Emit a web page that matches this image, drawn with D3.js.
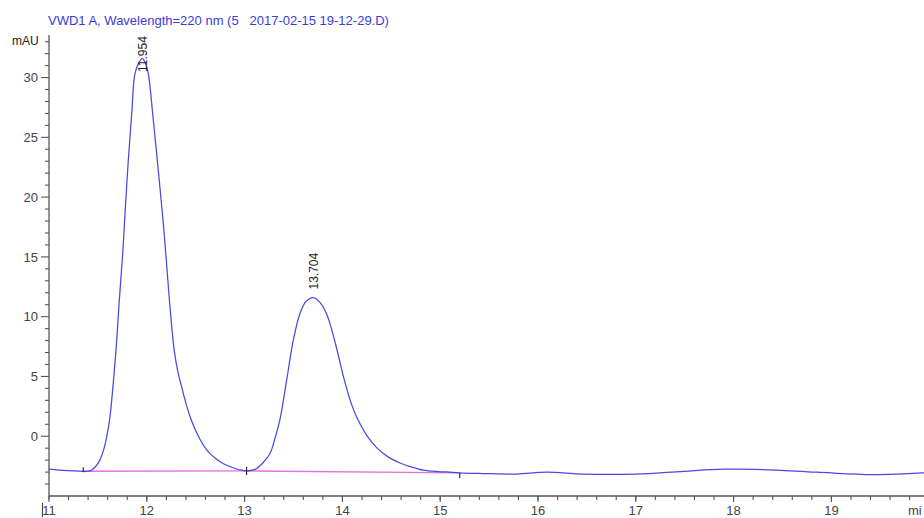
<!DOCTYPE html>
<html>
<head>
<meta charset="utf-8">
<script src="https://cdn.jsdelivr.net/npm/d3@7"></script>
<style>
  html, body { margin: 0; padding: 0; background: #fff; overflow: hidden; }
  svg { display: block; font-family: "Liberation Sans", Arial, sans-serif; }
</style>
</head>
<body>
<svg id="chart" width="924" height="518"></svg>
<script>
// Detector trace: retention time (min) and absorbance (mAU)
const timeMin = [
  11.00, 11.10, 11.20, 11.30, 11.35, 11.42, 11.47, 11.52, 11.56, 11.59,
  11.62, 11.641, 11.685, 11.719, 11.753, 11.777, 11.811, 11.846, 11.879, 11.92,
  11.954, 11.99, 12.015, 12.06, 12.107, 12.16, 12.193, 12.23, 12.28, 12.32,
  12.357, 12.40, 12.46, 12.53, 12.61, 12.70, 12.78, 12.85, 12.92, 12.97,
  13.02, 13.08, 13.124, 13.19, 13.26, 13.31, 13.36, 13.43, 13.498, 13.566,
  13.63, 13.704, 13.77, 13.84, 13.924, 14.01, 14.08, 14.146, 14.25, 14.35,
  14.47, 14.59, 14.71, 14.83, 14.95, 15.07, 15.20, 15.44, 15.78, 16.09,
  16.46, 17.00, 17.49, 17.90, 18.30, 18.85, 19.43, 19.94, 20.10
];
const signalMAU = [
  -2.76, -2.83, -2.88, -2.92, -2.93, -2.90, -2.60, -2.00, -1.10, -0.06,
  1.40, 3.00, 7.20, 11.38, 15.20, 18.60, 23.10, 27.00, 30.35, 31.25,
  31.60, 31.10, 30.35, 27.00, 23.10, 18.60, 15.40, 11.50, 7.20, 5.30,
  4.10, 2.75, 1.25, -0.05, -1.12, -1.85, -2.28, -2.53, -2.74, -2.84,
  -2.90, -2.83, -2.70, -2.20, -1.45, -0.20, 1.34, 4.69, 8.03, 10.27,
  11.30, 11.60, 11.20, 10.20, 7.90, 5.00, 3.00, 1.60, 0.05, -0.95,
  -1.75, -2.24, -2.58, -2.84, -2.95, -2.99, -3.07, -3.12, -3.16, -3.01,
  -3.17, -3.17, -2.93, -2.76, -2.79, -3.01, -3.21, -3.07, -3.05
];

// Integration baseline and its event marks
const baselineTime = [11.35, 13.02, 15.20];
const baselineMAU = [-2.93, -2.90, -3.07];

// Peak annotations
const peakTimes = [11.954, 13.704];
const peakHeights = [31.60, 11.60];
const peakLabels = ["11.954", "13.704"];

// Axis ticks
const xTicks = [11, 12, 13, 14, 15, 16, 17, 18, 19];
const yTicks = [0, 5, 10, 15, 20, 25, 30];

const titleText = "VWD1 A, Wavelength=220 nm (5   2017-02-15 19-12-29.D)";
const yUnit = "mAU";
const xUnit = "mi";

const svg = d3.select("#chart");

const x = d3.scaleLinear().domain([11, 20]).range([49, 929.2]);
const y = d3.scaleLinear().domain([-5, 33.5]).range([496, 35.7]);

const axisColor = "#555";
const labelColor = "#444";

// Title
svg.append("text")
  .attr("x", 48).attr("y", 24.5)
  .attr("font-size", 13)
  .attr("fill", "#3b3bd6")
  .style("white-space", "pre")
  .text(titleText);

// Y axis
const yAxisG = svg.append("g").attr("transform", "translate(49,0)");
yAxisG.append("line")
  .attr("x1", 0).attr("x2", 0).attr("y1", 35).attr("y2", 496)
  .attr("stroke", axisColor).attr("stroke-width", 1.3);
const yMinor = d3.range(-4, 34, 1).filter(v => !yTicks.includes(v));
yAxisG.selectAll("line.minor").data(yMinor).join("line")
  .attr("class", "minor")
  .attr("x1", -4).attr("x2", 0)
  .attr("y1", d => y(d)).attr("y2", d => y(d))
  .attr("stroke", axisColor).attr("stroke-width", 1.1);
yAxisG.selectAll("line.major").data(yTicks).join("line")
  .attr("class", "major")
  .attr("x1", -8).attr("x2", 0)
  .attr("y1", d => y(d)).attr("y2", d => y(d))
  .attr("stroke", axisColor).attr("stroke-width", 1.1);
yAxisG.selectAll("text.tick").data(yTicks).join("text")
  .attr("class", "tick")
  .attr("x", -11).attr("y", d => y(d))
  .attr("dy", "0.36em")
  .attr("text-anchor", "end")
  .attr("font-size", 13)
  .attr("fill", labelColor)
  .text(d => d);
svg.append("text")
  .attr("x", 12).attr("y", 45)
  .attr("font-size", 12)
  .attr("fill", "#222")
  .text(yUnit);

// X axis
const xAxisG = svg.append("g").attr("transform", "translate(0,496)");
xAxisG.append("line")
  .attr("x1", 49).attr("x2", 924)
  .attr("stroke", axisColor).attr("stroke-width", 1.3);
const xMinor = d3.range(11, 20.01, 0.2).map(v => Math.round(v * 10) / 10);
xAxisG.selectAll("line.minor").data(xMinor).join("line")
  .attr("class", "minor")
  .attr("x1", d => x(d)).attr("x2", d => x(d))
  .attr("y1", 0).attr("y2", 4)
  .attr("stroke", axisColor).attr("stroke-width", 1.1);
xAxisG.selectAll("line.major").data(xTicks).join("line")
  .attr("class", "major")
  .attr("x1", d => x(d)).attr("x2", d => x(d))
  .attr("y1", 0).attr("y2", 6)
  .attr("stroke", axisColor).attr("stroke-width", 1.1);
xAxisG.selectAll("text.tick").data(xTicks).join("text")
  .attr("class", "tick")
  .attr("x", d => x(d)).attr("y", 19)
  .attr("text-anchor", "middle")
  .attr("font-size", 13)
  .attr("fill", labelColor)
  .text(d => d);
// start-of-window bar beside the first time label
xAxisG.append("line")
  .attr("x1", x(11) - 6.5).attr("x2", x(11) - 6.5)
  .attr("y1", 7).attr("y2", 21)
  .attr("stroke", labelColor).attr("stroke-width", 1.1);
svg.append("text")
  .attr("x", 908).attr("y", 515)
  .attr("font-size", 13)
  .attr("fill", labelColor)
  .text(xUnit);

// Integration baseline
const baseLine = d3.line()
  .x((d, i) => x(baselineTime[i]))
  .y((d, i) => y(baselineMAU[i]));
svg.append("path")
  .datum(baselineTime)
  .attr("d", baseLine)
  .attr("fill", "none")
  .attr("stroke", "#e56fe5")
  .attr("stroke-width", 1.4);

// Signal trace
const trace = d3.line()
  .x((d, i) => x(timeMin[i]))
  .y((d, i) => y(signalMAU[i]))
  .curve(d3.curveCatmullRom.alpha(0.5));
svg.append("path")
  .datum(timeMin)
  .attr("d", trace)
  .attr("fill", "none")
  .attr("stroke", "#4a4adc")
  .attr("stroke-width", 1.25);

// Peak start / end event ticks
const eventOffsets = [[-4, 1], [-4, 4], [0, 5]];
svg.selectAll("line.event").data(baselineTime).join("line")
  .attr("class", "event")
  .attr("x1", d => x(d)).attr("x2", d => x(d))
  .attr("y1", (d, i) => y(baselineMAU[i]) + eventOffsets[i][0])
  .attr("y2", (d, i) => y(baselineMAU[i]) + eventOffsets[i][1])
  .attr("stroke", "#222").attr("stroke-width", 1.1);

// Retention-time labels, kept inside the plot top
svg.selectAll("text.peak").data(peakTimes).join("text")
  .attr("class", "peak")
  .attr("font-size", 12)
  .attr("fill", "#222")
  .attr("transform", (d, i) => {
    const ly = Math.max(y(peakHeights[i]) - 8, 72);
    return `translate(${x(d) + 4.5},${ly}) rotate(-90)`;
  })
  .text((d, i) => peakLabels[i]);
</script>
</body>
</html>
